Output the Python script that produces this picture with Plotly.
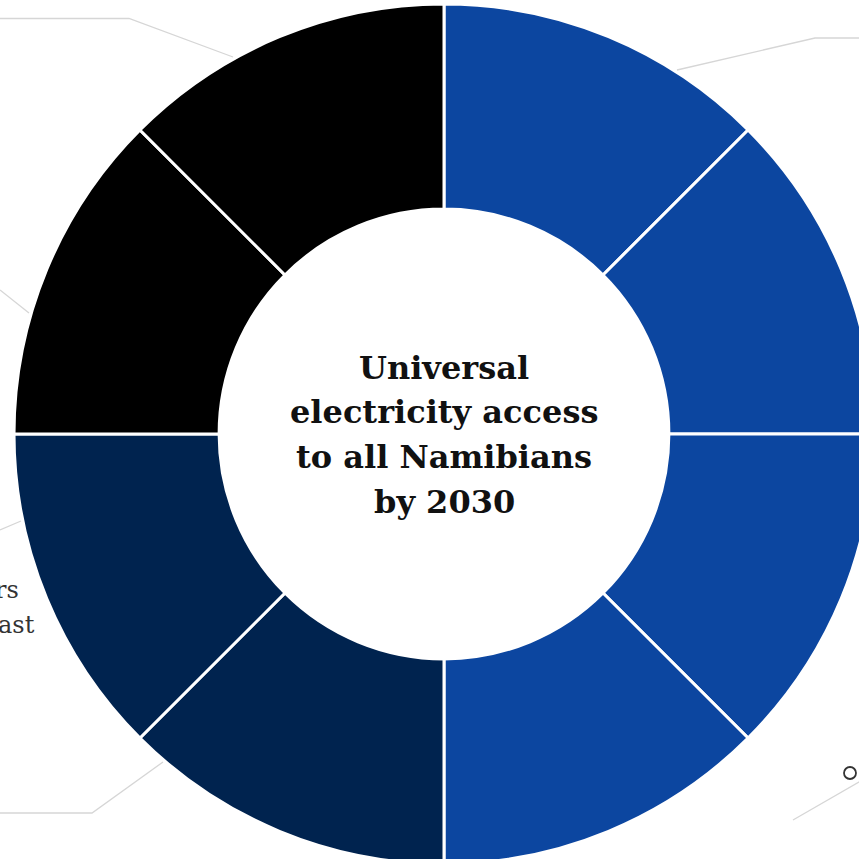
import plotly.graph_objects as go

# ---- data ----
segments = ["Segment 1", "Segment 2", "Segment 3", "Segment 4",
            "Segment 5", "Segment 6", "Segment 7", "Segment 8"]
values = [1, 1, 1, 1, 1, 1, 1, 1]
colors = ["#0C46A0", "#0C46A0", "#0C46A0", "#0C46A0",
          "#00234F", "#00234F", "#000000", "#000000"]
center_lines = ["Universal", "electricity access", "to all Namibians", "by 2030"]
partial_labels = ["rs", "ast"]

# ---- geometry (figure larger than viewport, overflow hidden) ----
W, H = 880, 870
CX, CY, R = 444, 434, 430


def px(x):
    return x / W


def py(y):
    return 1 - y / H


fig = go.Figure(go.Pie(
    labels=segments,
    values=values,
    sort=False,
    direction="clockwise",
    rotation=0,
    hole=0.523,
    marker=dict(colors=colors, line=dict(color="#ffffff", width=3)),
    textinfo="none",
    hoverinfo="skip",
    showlegend=False,
    domain=dict(x=[px(CX - R), px(CX + R)], y=[py(CY + R), py(CY - R)]),
))

# leader lines (faint connectors of the outside labels)
leaders = [
    [(0, 18.5), (129, 18.5), (233, 57)],
    [(677, 70), (815, 38), (880, 38)],
    [(0, 290), (29, 313)],
    [(0, 530), (21, 521)],
    [(163, 762), (92, 813), (0, 813)],
    [(793, 820), (880, 770)],
]
shapes = []
for pts in leaders:
    path = "M " + " L ".join(f"{px(x)},{py(y)}" for x, y in pts)
    shapes.append(dict(type="path", xref="paper", yref="paper", path=path,
                       line=dict(color="#d6d6d6", width=1.3)))
shapes.append(dict(type="circle", xref="paper", yref="paper",
                   x0=px(844), x1=px(856), y0=py(779), y1=py(767),
                   line=dict(color="#333333", width=1.8)))

annotations = []
line_ys = [368, 412, 457, 502]
for txt, y in zip(center_lines, line_ys):
    annotations.append(dict(
        text=f"<b>{txt}</b>", x=px(CX), y=py(y), xref="paper", yref="paper",
        xanchor="center", yanchor="middle", showarrow=False,
        font=dict(family="Georgia, 'DejaVu Serif', serif", size=32, color="#111111"),
    ))
for txt, (x, y) in zip(partial_labels, [(21, 590), (37, 625)]):
    annotations.append(dict(
        text=txt, x=px(x), y=py(y), xref="paper", yref="paper",
        xanchor="right", yanchor="middle", showarrow=False,
        font=dict(family="Georgia, 'DejaVu Serif', serif", size=24, color="#333333"),
    ))

fig.update_layout(
    width=W, height=H, autosize=False,
    margin=dict(l=0, r=0, t=0, b=0, pad=0),
    paper_bgcolor="#ffffff", plot_bgcolor="#ffffff",
    shapes=shapes, annotations=annotations,
)

fig.write_html(
    "out.html",
    post_script="document.documentElement.style.overflow='hidden';"
                "document.body.style.overflow='hidden';"
                "document.body.style.margin='0';",
)
